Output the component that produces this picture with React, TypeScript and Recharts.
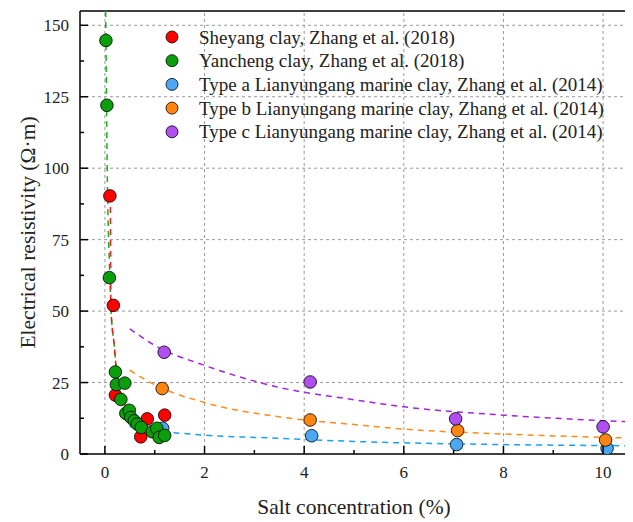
import React from "react";
import { ComposedChart, Line, Scatter, XAxis, YAxis, ReferenceLine } from "recharts";

// measured points
const sheyangX = [0.1, 0.17, 0.21, 0.72, 0.85, 1.2];
const sheyangY = [90.3, 52.0, 20.6, 6.0, 12.3, 13.6];
const yanchengX = [0.02, 0.04, 0.09, 0.21, 0.23, 0.32, 0.4, 0.42, 0.49, 0.52, 0.59, 0.65, 0.73, 0.95, 1.04, 1.09, 1.2];
const yanchengY = [144.7, 122, 61.7, 28.7, 24.3, 19.1, 24.8, 14.2, 15.3, 12.8, 11.6, 10.5, 9.3, 7.8, 9.0, 5.8, 6.5];
const typeAX = [1.16, 4.15, 7.06, 10.08];
const typeAY = [9.0, 6.4, 3.3, 2.0];
const typeBX = [1.15, 4.12, 7.08, 10.05];
const typeBY = [22.9, 11.9, 8.2, 4.9];
const typeCX = [1.19, 4.12, 7.04, 10.0];
const typeCY = [35.6, 25.2, 12.3, 9.5];

// fitted curves
const fitYanchengX = [0.015, 0.05, 0.09, 0.12, 0.19, 0.23, 0.29, 0.39, 0.58, 0.72, 0.9, 1.2];
const fitYanchengY = [155, 95, 66.5, 51.4, 37.4, 29.3, 23.5, 17.7, 11.9, 9.0, 7.5, 6.0];
const fitSheyangX = [0.11, 0.12, 0.19, 0.23, 0.29, 0.39, 0.58, 0.72, 0.9, 1.2];
const fitSheyangY = [88.6, 51.4, 37.4, 29.3, 23.5, 17.7, 11.9, 9.0, 7.5, 6.0];
const fitX = [0.5, 1, 2, 3.5, 5, 6, 8, 10.5];
const fitAY = [9.5, 8.2, 6.6, 5.5, 4.4, 3.9, 3.3, 2.9];
const fitBY = [29.3, 24.2, 18.0, 13.0, 10.3, 8.7, 7.0, 5.6];
const fitCY = [43.8, 38.0, 31.0, 23.3, 19.0, 16.5, 13.6, 11.3];

const xTicks = [0, 1, 2, 3, 4, 5, 6, 7, 8, 9, 10];
const yTicks = [0, 12.5, 25, 37.5, 50, 62.5, 75, 87.5, 100, 112.5, 125, 137.5, 150];
const xGrid = [0, 2, 4, 6, 8, 10];
const yGrid = [25, 50, 75, 100, 125, 150];

const legendNames = [
  "Sheyang clay, Zhang et al. (2018)",
  "Yancheng clay, Zhang et al. (2018)",
  "Type a Lianyungang marine clay, Zhang et al. (2014)",
  "Type b Lianyungang marine clay, Zhang et al. (2014)",
  "Type c Lianyungang marine clay, Zhang et al. (2014)",
];
const dotColors = ["#ff0000", "#0a9e0a", "#4aa8f5", "#ff8410", "#b14ef0"];
const lineColors = ["#ff1a1a", "#17b317", "#1aa0f0", "#ff8c1a", "#a326d6"];

const zip = (xs: number[], ys: number[]) => xs.map((x, i) => ({ x, y: ys[i] }));

const font = "'Liberation Serif', 'Times New Roman', serif";

const Dot = (color: string) => (p: any) =>
  <circle cx={p.cx} cy={p.cy} r={6.3} fill={color} stroke="#000" strokeWidth={0.8} />;

const XTick = (p: any) => {
  const { x, y, payload } = p;
  const major = payload.value % 2 === 0;
  return (
    <g>
      <line x1={x} x2={x} y1={y} y2={y - (major ? 8 : 4)} stroke="#000" strokeWidth={1.5} />
      {major && (
        <text x={x} y={y + 24} textAnchor="middle" style={{ fontFamily: font, fontSize: 17 }} fill="#222">
          {payload.value}
        </text>
      )}
    </g>
  );
};

const YTick = (p: any) => {
  const { x, y, payload } = p;
  const major = payload.value % 25 === 0;
  return (
    <g>
      <line x1={x} x2={x + (major ? 8 : 4)} y1={y} y2={y} stroke="#000" strokeWidth={1.5} />
      {major && (
        <text x={x - 11} y={y + 6} textAnchor="end" style={{ fontFamily: font, fontSize: 17 }} fill="#222">
          {payload.value}
        </text>
      )}
    </g>
  );
};

export default function App() {
  const points = [
    { data: zip(typeAX, typeAY), c: dotColors[2] },
    { data: zip(sheyangX, sheyangY), c: dotColors[0] },
    { data: zip(yanchengX, yanchengY), c: dotColors[1] },
    { data: zip(typeBX, typeBY), c: dotColors[3] },
    { data: zip(typeCX, typeCY), c: dotColors[4] },
  ];
  const fits = [
    { data: zip(fitYanchengX, fitYanchengY), c: lineColors[1], off: 0 },
    { data: zip(fitSheyangX, fitSheyangY), c: lineColors[0], off: 5 },
    { data: zip(fitX, fitAY), c: lineColors[2], off: 0 },
    { data: zip(fitX, fitBY), c: lineColors[3], off: 0 },
    { data: zip(fitX, fitCY), c: lineColors[4], off: 0 },
  ];

  return (
    <div style={{ position: "relative", width: 625, height: 514, fontFamily: font }}>
      <ComposedChart width={625} height={514} margin={{ top: 3, right: 5, left: 0, bottom: 0 }}>
        <XAxis
          type="number"
          dataKey="x"
          domain={[-0.5, 10.5]}
          ticks={xTicks}
          interval={0}
          allowDataOverflow
          height={68}
          tickSize={0}
          tickMargin={0}
          tickLine={false}
          tick={<XTick />}
          axisLine={{ stroke: "#000", strokeWidth: 1.5 }}
          label={{ value: "Salt concentration (%)", position: "insideBottom", offset: 8, style: { fontFamily: font, fontSize: 21.5, fill: "#222" } }}
        />
        <YAxis
          type="number"
          dataKey="y"
          domain={[0, 155]}
          ticks={yTicks}
          interval={0}
          allowDataOverflow
          width={72}
          tickSize={0}
          tickMargin={0}
          tickLine={false}
          tick={<YTick />}
          axisLine={{ stroke: "#000", strokeWidth: 1.5 }}
          label={{ value: "Electrical resistivity (\u03A9\u00B7m)", angle: -90, position: "insideLeft", offset: 19, style: { textAnchor: "middle", fontFamily: font, fontSize: 21.5, fill: "#222" } }}
        />
        {xGrid.map((v) => (
          <ReferenceLine key={"gx" + v} x={v} stroke="#999" strokeDasharray="3 3" />
        ))}
        {yGrid.map((v) => (
          <ReferenceLine key={"gy" + v} y={v} stroke="#999" strokeDasharray="3 3" />
        ))}
        <ReferenceLine y={155} stroke="#000" strokeWidth={1.5} />
        <ReferenceLine x={10.5} stroke="#000" strokeWidth={1.5} />
        {fits.map((f, i) => (
          <Line
            key={"f" + i}
            data={f.data}
            dataKey="y"
            type="monotone"
            dot={false}
            activeDot={false}
            stroke={f.c}
            strokeWidth={1.5}
            strokeDasharray="6 5"
            strokeDashoffset={f.off}
            isAnimationActive={false}
          />
        ))}
        {points.map((s, i) => (
          <Scatter key={"s" + i} data={s.data} dataKey="y" shape={Dot(s.c)} isAnimationActive={false} />
        ))}
      </ComposedChart>
      <svg width={625} height={514} style={{ position: "absolute", left: 0, top: 0, pointerEvents: "none" }}>
        {legendNames.map((n, i) => (
          <g key={n}>
            <circle cx={164} cy={29 + i * 23.7} r={6} fill={dotColors[i]} stroke="#000" strokeWidth={0.8} />
            <text x={191} y={29 + i * 23.7 + 6.5} style={{ fontFamily: font, fontSize: 19 }} fill="#222">
              {n}
            </text>
          </g>
        ))}
      </svg>
    </div>
  );
}
